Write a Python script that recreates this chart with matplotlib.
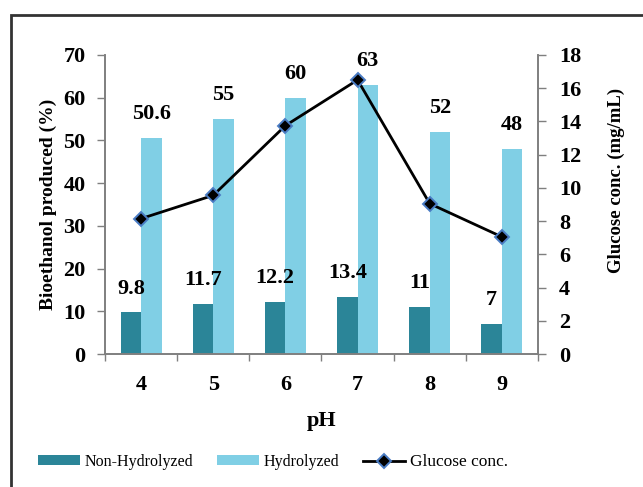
import matplotlib
matplotlib.use("Agg")
import matplotlib.pyplot as plt
import numpy as np
from matplotlib.patches import Rectangle

plt.rcParams['font.family'] = ['Liberation Serif', 'DejaVu Serif']

ph_labels = ['4', '5', '6', '7', '8', '9']
non_hydrolyzed = [9.8, 11.7, 12.2, 13.4, 11, 7]
hydrolyzed = [50.6, 55, 60, 63, 52, 48]
glucose = [8.15, 9.55, 13.75, 16.5, 9.05, 7.05]

dark_teal = '#2b8598'
light_blue = '#80cfe5'
spine_grey = '#7f7f7f'

fig = plt.figure(figsize=(6.43, 4.87), dpi=100)
ax = fig.add_axes([105 / 643, 1 - 354 / 487, 433 / 643, 299 / 487])
ax2 = ax.twinx()

x = np.arange(len(ph_labels))
w = 0.284
b1 = ax.bar(x - w / 2, non_hydrolyzed, w, color=dark_teal, label='Non-Hydrolyzed', zorder=2)
b2 = ax.bar(x + w / 2, hydrolyzed, w, color=light_blue, label='Hydrolyzed', zorder=2)

for xi, v in zip(x, non_hydrolyzed):
    ax.annotate(f'{v:g}', (xi - w / 2, v), xytext=(0, 17), textcoords='offset points',
                ha='center', va='center', fontsize=16, fontweight='bold')
for xi, v in zip(x, hydrolyzed):
    ax.annotate(f'{v:g}', (xi + w / 2, v), xytext=(0, 17), textcoords='offset points',
                ha='center', va='center', fontsize=16, fontweight='bold')

ln, = ax2.plot(x, glucose, color='black', lw=2.0, marker='D', markersize=7.5,
               markerfacecolor='black', markeredgecolor='#4a7cc4', markeredgewidth=1.4,
               label='Glucose conc.', zorder=3)

ax.set_xlim(-0.5, len(x) - 0.5)
ax.set_ylim(0, 70)
ax.set_yticks(np.arange(0, 71, 10))
ax2.set_ylim(0, 18)
ax2.set_yticks(np.arange(0, 19, 2))

# category boundaries as major ticks, labels on minor ticks at centers
ax.set_xticks(np.arange(-0.5, len(x), 1.0))
ax.set_xticklabels([])
ax.set_xticks(x, minor=True)
ax.set_xticklabels(ph_labels, minor=True)
ax.tick_params(axis='x', which='major', length=5, width=1, color=spine_grey, direction='out')
ax.tick_params(axis='x', which='minor', length=0, pad=15, labelsize=16)
for t in ax.get_xticklabels(minor=True):
    t.set_fontweight('bold')

ax.tick_params(axis='y', length=6, width=1, color=spine_grey, pad=8, labelsize=16)
ax2.tick_params(axis='y', length=6, width=1, color=spine_grey, pad=9, labelsize=16)
for t in ax.get_yticklabels() + ax2.get_yticklabels():
    t.set_fontweight('bold')

for a in (ax, ax2):
    a.spines['top'].set_visible(False)
    for s in ('left', 'right', 'bottom'):
        a.spines[s].set_color(spine_grey)
        a.spines[s].set_linewidth(1.2)
    a.patch.set_visible(False)

ax.set_xlabel('pH', fontsize=16, fontweight='bold')
ax.xaxis.set_label_coords(0.5, -0.19)
ax.set_ylabel('Bioethanol produced (%)', fontsize=14, fontweight='bold')
ax.yaxis.set_label_coords(-0.111, 0.5)
ax2.set_ylabel('Glucose conc. (mg/mL)', fontsize=13.5, fontweight='bold')
ax2.yaxis.set_label_coords(1.162, 0.58)

leg = fig.legend(handles=[b1, b2, ln], loc='center', bbox_to_anchor=(273 / 643, 1 - 462 / 487),
                 ncol=3, frameon=False, fontsize=11.5, handlelength=2.6, handleheight=0.6,
                 handletextpad=0.3, columnspacing=1.5)
leg.get_texts()[2].set_fontsize(12.5)

# outer frame around the figure
fig.patches.append(Rectangle((10.5 / 643, -0.2), 2.0, 1.2 - 15 / 487,
                             transform=fig.transFigure, fill=False,
                             edgecolor='#333333', linewidth=2.0))

fig.savefig('out.png', dpi=100)
